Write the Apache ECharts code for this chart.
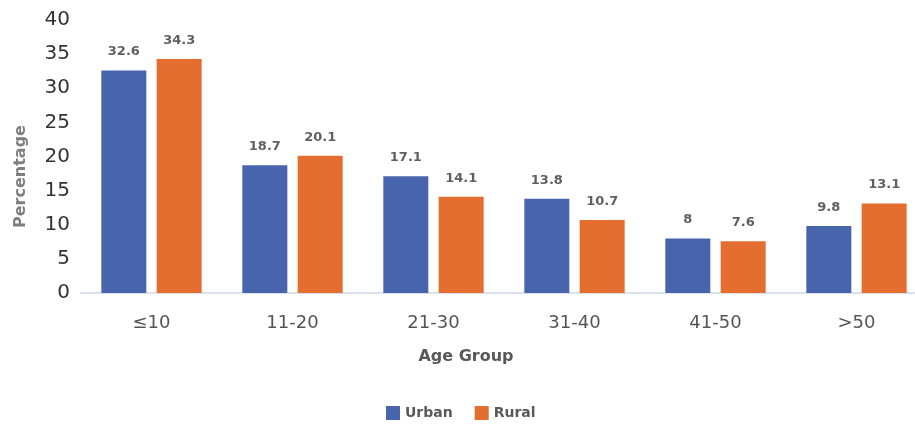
<!DOCTYPE html>
<html>
<head>
<meta charset="utf-8">
<script src="https://cdn.jsdelivr.net/npm/echarts@6/dist/echarts.min.js"></script>
<style>
  html, body { margin: 0; padding: 0; background: #ffffff; }
  #chart { width: 915px; height: 426px; }
</style>
</head>
<body>
<div id="chart"></div>
<script>
// Age groups and the share (%) of each group for urban and rural respondents
const ageGroups = ['≤10', '11-20', '21-30', '31-40', '41-50', '>50'];
const urbanValues = [32.6, 18.7, 17.1, 13.8, 8, 9.8];
const ruralValues = [34.3, 20.1, 14.1, 10.7, 7.6, 13.1];
const yTicks = { min: 0, max: 40, interval: 5 };

const FONT = '"DejaVu Sans", "Open Sans", sans-serif';
const URBAN = '#4764ad';
const RURAL = '#e36e2f';

function barSeries(name, values, color) {
  return {
    name: name,
    type: 'bar',
    data: values,
    barWidth: 45,
    barGap: '23%',
    itemStyle: { color: color },
    label: {
      show: true,
      position: 'top',
      distance: 12,
      color: '#606060',
      fontFamily: FONT,
      fontSize: 13,
      fontWeight: 'bold'
    }
  };
}

const chart = echarts.init(document.getElementById('chart'), null, { renderer: 'canvas' });
chart.setOption({
  animation: false,
  // the plot runs past the right edge of the canvas, so its width is fixed
  grid: {
    left: 81, width: 846, top: 20, bottom: 133,
    containLabel: false,
    outerBoundsMode: 'none'
  },
  legend: {
    bottom: 1,
    left: 381,
    itemWidth: 14,
    itemHeight: 14,
    itemGap: 22,
    icon: 'rect',
    textStyle: { color: '#595959', fontFamily: FONT, fontSize: 14, fontWeight: 'bold' },
    data: ['Urban', 'Rural']
  },
  xAxis: {
    type: 'category',
    data: ageGroups,
    name: 'Age Group',
    nameLocation: 'middle',
    nameGap: 56,
    nameTextStyle: {
      color: '#595959', fontFamily: FONT, fontSize: 16, fontWeight: 'bold',
      padding: [0, 76, 0, 0]
    },
    axisLine: { lineStyle: { color: '#dbe2ee', width: 2 } },
    axisTick: { show: false },
    axisLabel: { color: '#555555', fontFamily: FONT, fontSize: 18, margin: 21 }
  },
  yAxis: {
    type: 'value',
    min: yTicks.min,
    max: yTicks.max,
    interval: yTicks.interval,
    name: 'Percentage',
    nameLocation: 'middle',
    nameGap: 52,
    nameTextStyle: {
      color: '#7f7f7f', fontFamily: FONT, fontSize: 16, fontWeight: 'bold',
      padding: [0, 40, 0, 0]
    },
    axisLine: { show: false },
    axisTick: { show: false },
    splitLine: { show: false },
    axisLabel: { color: '#333333', fontFamily: FONT, fontSize: 20, margin: 11 }
  },
  series: [
    barSeries('Urban', urbanValues, URBAN),
    barSeries('Rural', ruralValues, RURAL)
  ]
});
</script>
</body>
</html>
